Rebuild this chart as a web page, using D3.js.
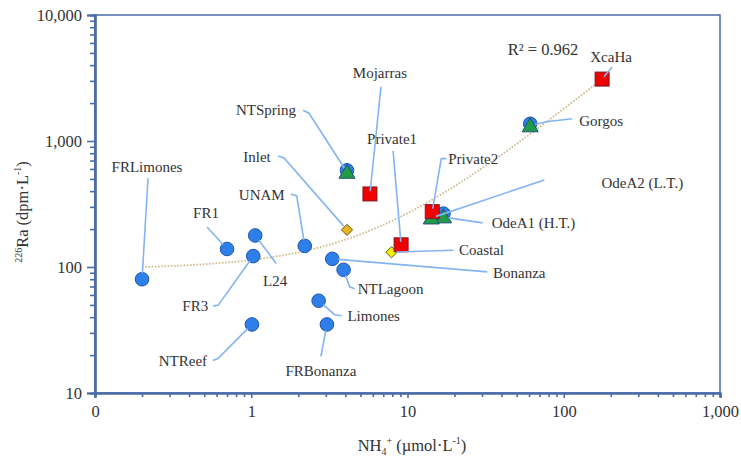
<!DOCTYPE html>
<html>
<head>
<meta charset="utf-8">
<script src="https://cdn.jsdelivr.net/npm/d3@7"></script>
<style>
  body { margin: 0; background: #fff; }
  svg text { font-family: "Liberation Serif", "Times New Roman", serif; fill: #333; }
</style>
</head>
<body>
<div id="chart"></div>
<script>
// values (NH4+ in umol/L, 226Ra in dpm/L)
var circleNames = ["FRLimones", "FR1", "L24", "FR3", "NTReef", "UNAM", "Bonanza", "NTLagoon", "Limones", "FRBonanza", "NTSpring", "OdeA1", "Gorgos"];
var circleNH4   = [0.2, 0.70, 1.06, 1.03, 1.01, 2.2, 3.3, 3.9, 2.7, 3.05, 4.1, 17, 61];
var circleRa    = [80, 139, 178, 122, 35, 147, 116, 95, 54, 35, 585, 265, 1370];

var triangleNames = ["NTSpring", "Gorgos", "OdeA1", "OdeA2"];
var triangleNH4   = [4.1, 61, 17, 14.2];
var triangleRa    = [565, 1320, 250, 245];

var squareNames = ["Mojarras", "Private1", "Private2", "XcaHa"];
var squareNH4   = [5.75, 9.1, 14.4, 176];
var squareRa    = [380, 150, 275, 3100];

var diamondNames = ["Inlet", "Coastal"];
var diamondNH4   = [4.1, 7.9];
var diamondRa    = [197, 131];
var diamondFill  = ["#e8b420", "#f6f000"];

// linear trend (Ra = a * NH4 + b), drawn on the log-log axes
var trendSlope = 17.06, trendIntercept = 96.6, trendFrom = 0.2, trendTo = 176;
var trendLabel = "R\u00b2 = 0.962";

var xMajor = [0.1, 1, 10, 100, 1000];
var yMajor = [10, 100, 1000, 10000];

// callout placement: which marker it points at, text offset, leader bends (px from the marker)
var callouts = [
  {name: "FRLimones", on: "circle",   dx: 5,   dy: -112, lead: [[6, -101]]},
  {name: "FR1",       on: "circle",   dx: -21, dy: -36,  lead: [[-20, -22]]},
  {name: "L24",       on: "circle",   dx: 20,  dy: 45,   lead: [[21, 28]]},
  {name: "FR3",       on: "circle",   dx: -58, dy: 50,   lead: [[-40, 50], [-35, 49]]},
  {name: "NTReef",    on: "circle",   dx: -69, dy: 36,   lead: [[-39, 36], [-34, 34]]},
  {name: "UNAM",      on: "circle",   dx: -43, dy: -51,  lead: [[-14, -52], [-8, -50]]},
  {name: "Inlet",     on: "diamond",  dx: -90, dy: -73,  lead: [[-69, -74], [-63, -72]]},
  {name: "NTSpring",  on: "triangle", dx: -81, dy: -62,  lead: [[-44, -62], [-38, -59]]},
  {name: "Mojarras",  on: "square",   dx: 10,  dy: -121, lead: [[11, -107]]},
  {name: "Private1",  on: "square",   dx: -9,  dy: -106, lead: [[-8, -94]]},
  {name: "Private2",  on: "square",   dx: 41,  dy: -53,  lead: [[14, -53], [9, -53]]},
  {name: "Coastal",   on: "diamond",  dx: 90,  dy: -2,   lead: [[62, -2]]},
  {name: "Bonanza",   on: "circle",   dx: 187, dy: 14,   lead: [[155, 13]]},
  {name: "NTLagoon",  on: "circle",   dx: 47,  dy: 19,   lead: [[11, 19], [6, 17]]},
  {name: "Limones",   on: "circle",   dx: 55,  dy: 15,   lead: [[23, 15], [16, 14]]},
  {name: "FRBonanza", on: "circle",   dx: -6,  dy: 46,   lead: [[-6, 32]]},
  {name: "OdeA1",     text: "OdeA1 (H.T.)", on: "triangle", dx: 90, dy: 6, lead: [[39, 6], [12, 2]]},
  {name: "OdeA2",     text: "OdeA2 (L.T.)", on: "triangle", dx: 211, dy: -35, lead: [[113, -38]]},
  {name: "Gorgos",    on: "triangle", dx: 71,  dy: -5,   lead: [[42, -7], [16, -4]]},
  {name: "XcaHa",     on: "square",   dx: 9,   dy: -22,  lead: [[10, -12]]}
];

var W = 741, H = 460;
var margin = {top: 15, right: 21, bottom: 67, left: 95},
    width = W - margin.left - margin.right,
    height = H - margin.top - margin.bottom;

var axisColor = "#4a6ba8";
var leaderColor = "#84b4f2";

var svg = d3.select("#chart").append("svg")
    .attr("width", W)
    .attr("height", H);

var g = svg.append("g")
    .attr("transform", "translate(" + margin.left + "," + margin.top + ")");

var x = d3.scaleLog().domain([0.1, 1000]).range([0, width]);
var y = d3.scaleLog().domain([10, 10000]).range([height, 0]);

var fmt = d3.format(",.0f");

// minor ticks 2..9 in each decade
function minors(majors) {
  var out = [];
  majors.slice(0, -1).forEach(function(m) {
    for (var k = 2; k <= 9; k++) out.push(m * k);
  });
  return out;
}

// frame
g.append("rect")
    .attr("width", width)
    .attr("height", height)
    .attr("fill", "none")
    .attr("stroke", axisColor)
    .attr("stroke-width", 1.5);

// trend line
var trendPts = d3.range(0, 201).map(function(i) {
  var lx = Math.log10(trendFrom) + (Math.log10(trendTo) - Math.log10(trendFrom)) * i / 200;
  var xv = Math.pow(10, lx);
  return [xv, trendSlope * xv + trendIntercept];
});
g.append("path")
    .attr("d", d3.line().x(function(d) { return x(d[0]); }).y(function(d) { return y(d[1]); })(trendPts))
    .attr("fill", "none")
    .attr("stroke", "#cdbb8a")
    .attr("stroke-width", 1.8)
    .attr("stroke-dasharray", "1.6,1.6");

// axes
var xAxisMinor = d3.axisBottom(x).tickValues(minors(xMajor)).tickSize(4).tickFormat("");
var xAxisMajor = d3.axisBottom(x).tickValues(xMajor).tickSize(5).tickPadding(7).tickFormat(fmt);
var yAxisMinor = d3.axisLeft(y).tickValues(minors(yMajor)).tickSize(5).tickFormat("");
var yAxisMajor = d3.axisLeft(y).tickValues(yMajor).tickSize(8).tickPadding(5).tickFormat(fmt);

function styleAxis(sel) {
  sel.select(".domain").attr("stroke", axisColor).attr("stroke-width", 2.2);
  sel.selectAll(".tick line").attr("stroke", axisColor).attr("stroke-width", 1.6);
  sel.selectAll(".tick text")
      .style("font-family", "'Liberation Serif', serif")
      .style("font-size", "16.5px")
      .attr("fill", "#333");
}

g.append("g").attr("transform", "translate(0," + height + ")").call(xAxisMinor).call(styleAxis);
g.append("g").attr("transform", "translate(0," + height + ")").call(xAxisMajor).call(styleAxis);
g.append("g").call(yAxisMinor).call(styleAxis);
g.append("g").call(yAxisMajor).call(styleAxis);

// markers
var pos = {circle: {}, triangle: {}, square: {}, diamond: {}};

circleNames.forEach(function(n, i) { pos.circle[n] = [x(circleNH4[i]), y(circleRa[i])]; });
triangleNames.forEach(function(n, i) { pos.triangle[n] = [x(triangleNH4[i]), y(triangleRa[i])]; });
squareNames.forEach(function(n, i) { pos.square[n] = [x(squareNH4[i]), y(squareRa[i])]; });
diamondNames.forEach(function(n, i) { pos.diamond[n] = [x(diamondNH4[i]), y(diamondRa[i])]; });

g.selectAll(".dot")
    .data(circleNames)
  .enter().append("circle")
    .attr("class", "dot")
    .attr("cx", function(d, i) { return x(circleNH4[i]); })
    .attr("cy", function(d, i) { return y(circleRa[i]); })
    .attr("r", 6.8)
    .attr("fill", "#2f7fea")
    .attr("stroke", "#1e56a8")
    .attr("stroke-width", 1);

g.selectAll(".diamond")
    .data(diamondNames)
  .enter().append("path")
    .attr("class", "diamond")
    .attr("d", d3.symbol().type(d3.symbolDiamond2).size(80))
    .attr("transform", function(d, i) { return "translate(" + x(diamondNH4[i]) + "," + y(diamondRa[i]) + ")"; })
    .attr("fill", function(d, i) { return diamondFill[i]; })
    .attr("stroke", "#6b5a10")
    .attr("stroke-width", 1);

g.selectAll(".tri")
    .data(triangleNames)
  .enter().append("path")
    .attr("class", "tri")
    .attr("d", "M0,-8L8,6L-8,6Z")
    .attr("transform", function(d, i) { return "translate(" + x(triangleNH4[i]) + "," + y(triangleRa[i]) + ")"; })
    .attr("fill", "#1f9c45")
    .attr("stroke", "#1f4e79")
    .attr("stroke-width", 1);

g.selectAll(".sq")
    .data(squareNames)
  .enter().append("rect")
    .attr("class", "sq")
    .attr("x", function(d, i) { return x(squareNH4[i]) - 7; })
    .attr("y", function(d, i) { return y(squareRa[i]) - 7; })
    .attr("width", 14)
    .attr("height", 14)
    .attr("fill", "#f20000")
    .attr("stroke", "#7a1a2a")
    .attr("stroke-width", 1);

// callouts: leader lines and labels
var shrink = {circle: 6, triangle: 5, square: 3, diamond: 5};
var line = d3.line();

callouts.forEach(function(c) {
  var p = pos[c.on][c.name];
  var pts = c.lead.map(function(o) { return [p[0] + o[0], p[1] + o[1]]; });
  var last = pts[pts.length - 1];
  var vx = last[0] - p[0], vy = last[1] - p[1], len = Math.sqrt(vx * vx + vy * vy);
  pts.push([p[0] + vx / len * shrink[c.on], p[1] + vy / len * shrink[c.on]]);
  g.append("path")
      .attr("d", line(pts))
      .attr("fill", "none")
      .attr("stroke", leaderColor)
      .attr("stroke-width", 1.6);
  g.append("text")
      .attr("x", p[0] + c.dx)
      .attr("y", p[1] + c.dy)
      .attr("dy", "0.35em")
      .attr("text-anchor", "middle")
      .style("font-size", "15px")
      .text(c.text || c.name);
});

// R squared
g.append("text")
    .attr("x", 448)
    .attr("y", 34)
    .attr("dy", "0.35em")
    .attr("text-anchor", "middle")
    .style("font-size", "16.5px")
    .text(trendLabel);

// axis titles (pixel dy so sub/superscripts return to the baseline)
var xt = svg.append("text")
    .attr("x", 412)
    .attr("y", 451)
    .attr("text-anchor", "middle")
    .style("font-size", "16.5px");
xt.append("tspan").text("NH");
xt.append("tspan").attr("dy", 4).style("font-size", "10px").text("4");
xt.append("tspan").attr("dy", -11).style("font-size", "10px").text("+");
xt.append("tspan").attr("dy", 7).text(" (\u00b5mol\u00b7L");
xt.append("tspan").attr("dy", -7).style("font-size", "10px").text("-1");
xt.append("tspan").attr("dy", 7).text(")");

var yt = svg.append("text")
    .attr("transform", "translate(28,212) rotate(-90)")
    .attr("text-anchor", "middle")
    .style("font-size", "16.5px");
yt.append("tspan").attr("dy", -6).style("font-size", "10px").text("226");
yt.append("tspan").attr("dy", 6).text("Ra (dpm\u00b7L");
yt.append("tspan").attr("dy", -7).style("font-size", "10px").text("-1");
yt.append("tspan").attr("dy", 7).text(")");
</script>
</body>
</html>
